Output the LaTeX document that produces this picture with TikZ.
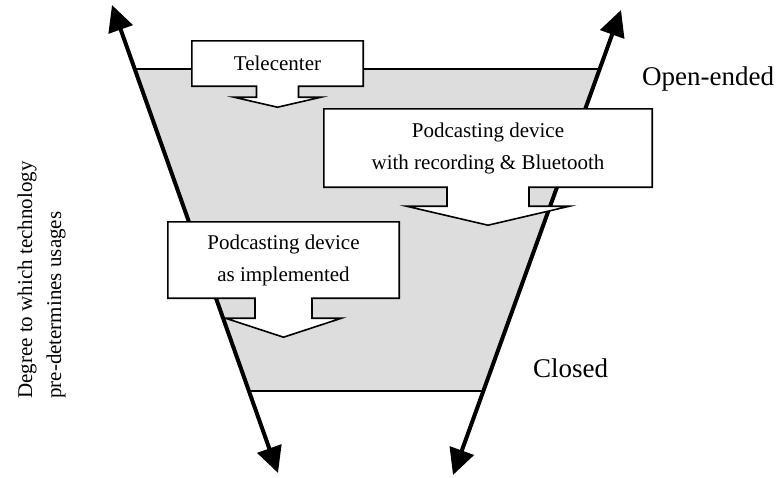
\documentclass[tikz,border=0pt]{standalone}
\usepackage{fontspec}
\setmainfont{Liberation Serif}
\usetikzlibrary{arrows.meta,calc}
\pgfdeclarelayer{shade}
\pgfdeclarelayer{boxes}
\pgfsetlayers{shade,boxes,main}

\definecolor{funnelgray}{RGB}{221,221,221}

% outline of a callout box with a downward block arrow under it
% #1 node, #2 stem half width, #3 wing half width, #4 stem length, #5 tip depth
\newcommand\calloutpath[5]{%
  \draw[calloutline] (#1.north west) -- (#1.north east) -- (#1.south east)
    -- ($(#1.south)+(#2,0)$) -- ($(#1.south)+(#2,#4)$)
    -- ($(#1.south)+(#3,#4)$) -- ($(#1.south)+(0,#5)$)
    -- ($(#1.south)+(-#3,#4)$) -- ($(#1.south)+(-#2,#4)$)
    -- ($(#1.south)+(-#2,0)$) -- (#1.south west) -- cycle;}

\tikzset{
  calloutline/.style={draw=black, line width=1.6pt, fill=white, line join=miter},
  boxtext/.style={rectangle, draw=none, inner sep=0pt, align=center,
    font=\fontsize{21}{32}\selectfont},
  sidelabel/.style={inner sep=0pt, font=\fontsize{27}{32}\selectfont},
  axislabel/.style={inner sep=0pt, font=\fontsize{21}{29}\selectfont},
  axisline/.style={line width=4pt,
    {Triangle[length=26pt,width=25pt]}-{Triangle[length=26pt,width=25pt]}},
  funnel/.style={fill=funnelgray, draw=none},
  funneledge/.style={draw=black, line width=1.6pt}
}

\begin{document}
\begin{tikzpicture}[x=1pt,y=-1pt]
\path[use as bounding box] (0,0) rectangle (782,477);

% the two slanted axes
\coordinate (lt) at (112,5);
\coordinate (lb) at (278,473);
\coordinate (rt) at (621,10);
\coordinate (rb) at (453,475);

% corners of the funnel where its top and bottom meet the axes
\coordinate (ftl) at ($(lt)!0.1368!(lb)$);
\coordinate (fbl) at ($(lt)!0.8248!(lb)$);
\coordinate (ftr) at ($(rt)!0.1269!(rb)$);
\coordinate (fbr) at ($(rt)!0.8194!(rb)$);

\begin{pgfonlayer}{shade}
  \path[funnel] (ftl) -- (ftr) -- (fbr) -- (fbl) -- cycle;
  \draw[funneledge] (ftl) -- (ftr);
  \draw[funneledge] (fbl) -- (fbr);
  \draw[axisline] (lt) -- (lb);
  \draw[axisline] (rt) -- (rb);
\end{pgfonlayer}

% callouts
\node[boxtext, minimum width=171pt, minimum height=45pt] (tele) at (277.5,63.5)
  {Telecenter};
\node[boxtext, minimum width=328pt, minimum height=78pt] (pdbt) at (488,148)
  {Podcasting device\\with recording \& Bluetooth};
\node[boxtext, minimum width=231pt, minimum height=76pt] (pdim) at (283.5,260)
  {Podcasting device\\as implemented};

\begin{pgfonlayer}{boxes}
  \calloutpath{tele}{21}{43.5}{11}{21}
  \calloutpath{pdbt}{41}{81.5}{19}{38}
  \calloutpath{pdim}{28.5}{58}{20}{39}
\end{pgfonlayer}

% end labels
\node[sidelabel, anchor=base west] (open) at (642,85) {Open-ended};
\node[sidelabel, anchor=base west] (closed) at (533,377) {Closed};

% vertical axis title
\node[axislabel, rotate=90, anchor=base west] (deg1) at (32,399)
  {Degree to which technology};
\node[axislabel, rotate=90, anchor=base west] (deg2) at (61,399)
  {pre-determines usages};
\end{tikzpicture}
\end{document}
